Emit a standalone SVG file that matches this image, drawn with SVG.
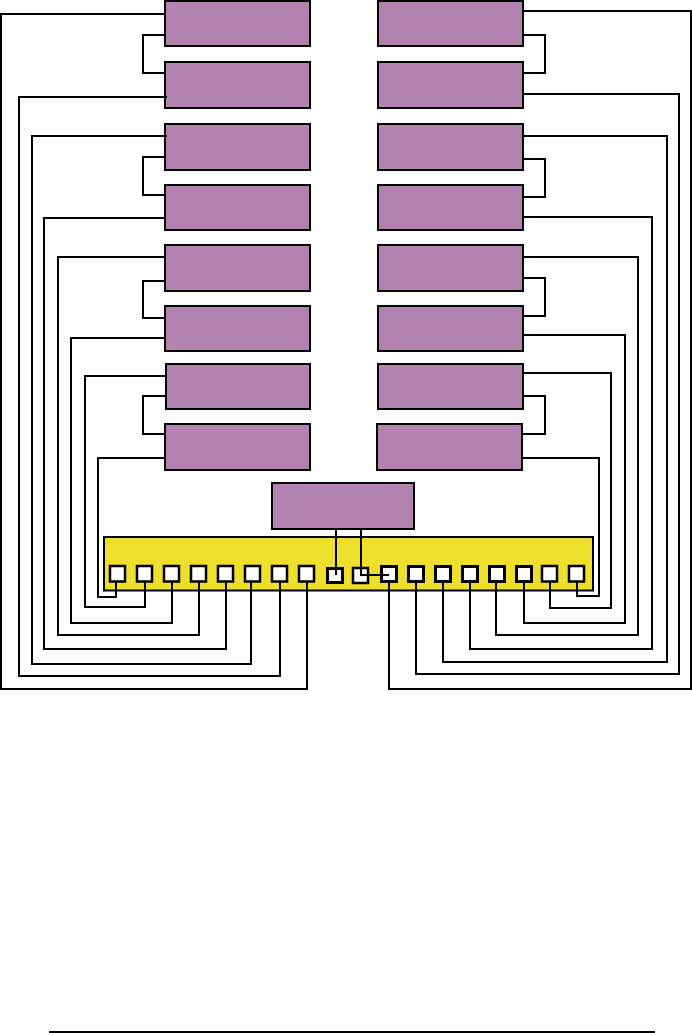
<svg xmlns="http://www.w3.org/2000/svg" width="692" height="1033" viewBox="0 0 692 1033">
<style>
.b{fill:#b383b0;stroke:#000;stroke-width:2}
.y{fill:#efdf2d;stroke:#000;stroke-width:2}
.p{fill:#fff;stroke:#000;stroke-width:2.5}
.q{fill:#fff;stroke:#000;stroke-width:3}
.c{fill:none;stroke:#000;stroke-width:2}
</style>
<rect width="692" height="1033" fill="#fff"/>
<g id="bus"><rect class="y" x="104" y="537" width="489" height="53.5"/></g>
<g id="left-boxes">
<rect id="l1" class="b" x="165" y="1" width="145" height="45"/>
<rect id="l2" class="b" x="165" y="62" width="145" height="46"/>
<rect id="l3" class="b" x="165" y="124" width="145" height="46"/>
<rect id="l4" class="b" x="165" y="185" width="145" height="45"/>
<rect id="l5" class="b" x="165" y="245" width="145" height="46"/>
<rect id="l6" class="b" x="165" y="306" width="145" height="45"/>
<rect id="l7" class="b" x="166" y="364" width="144" height="45"/>
<rect id="l8" class="b" x="165" y="424" width="145" height="46"/>
</g>
<g id="right-boxes">
<rect id="r1" class="b" x="378" y="1" width="145" height="45"/>
<rect id="r2" class="b" x="378" y="62" width="145" height="46"/>
<rect id="r3" class="b" x="378" y="124" width="145" height="46"/>
<rect id="r4" class="b" x="378" y="185" width="145" height="45"/>
<rect id="r5" class="b" x="378" y="245" width="145" height="46"/>
<rect id="r6" class="b" x="378" y="306" width="145" height="45"/>
<rect id="r7" class="b" x="378" y="364" width="145" height="45"/>
<rect id="r8" class="b" x="377" y="424" width="145" height="46"/>
</g>
<g id="center"><rect class="b" x="272" y="483" width="142" height="46"/></g>
<g id="ports">
<rect class="p" x="110" y="566" width="15" height="15.5"/>
<rect class="p" x="137" y="566" width="15" height="15.5"/>
<rect class="p" x="164" y="566" width="15" height="15.5"/>
<rect class="p" x="191" y="566" width="15" height="15.5"/>
<rect class="p" x="218" y="566" width="15" height="15.5"/>
<rect class="p" x="245" y="566" width="15" height="15.5"/>
<rect class="p" x="272" y="566" width="15" height="15.5"/>
<rect class="p" x="299" y="566" width="15" height="15.5"/>
<rect class="q" x="327.500" y="568.500" width="15" height="14"/>
<rect class="p" x="353" y="568" width="15" height="15"/>
<rect class="q" x="381.500" y="566.500" width="15" height="15"/>
<rect class="q" x="408.500" y="566.500" width="15" height="15"/>
<rect class="q" x="435.500" y="566.500" width="15" height="15"/>
<rect class="q" x="462.500" y="566.500" width="15" height="15"/>
<rect class="q" x="489.500" y="566.500" width="15" height="15"/>
<rect class="q" x="516.500" y="566.500" width="15" height="15"/>
<rect class="p" x="542" y="566" width="15" height="15.5"/>
<rect class="p" x="569" y="566" width="15" height="15.5"/>
</g>
<g id="connectors">
<path class="c" d="M165 35H143V73H165"/>
<path class="c" d="M165 157H143V195H165"/>
<path class="c" d="M165 281H143V318H165"/>
<path class="c" d="M166 396H143V434H165"/>
<path class="c" d="M523 35H545V73H523"/>
<path class="c" d="M523 159H545V197H523"/>
<path class="c" d="M523 278H545V316H523"/>
<path class="c" d="M523 396H545V434H522"/>
<path class="c" d="M116 582V597H98V458H165"/>
<path class="c" d="M145 582V607H85V376H166"/>
<path class="c" d="M172 582V623H71V338H165"/>
<path class="c" d="M199 582V635H58V257H165"/>
<path class="c" d="M226 582V649H44V218H165"/>
<path class="c" d="M251 582V664H32V136H167"/>
<path class="c" d="M280 582V676H19V97H167"/>
<path class="c" d="M307 582V689H1V14H165"/>
<path class="c" d="M389 582V689H691V11H523"/>
<path class="c" d="M416 582V674H679V94H523"/>
<path class="c" d="M443 582V662H667V136H523"/>
<path class="c" d="M470 582V649H652V217H523"/>
<path class="c" d="M496 582V635H638V257H523"/>
<path class="c" d="M524 582V623H625V335H523"/>
<path class="c" d="M550 582V608H611V373H523"/>
<path class="c" d="M577 582V596H599V458H522"/>
<path class="c" d="M336 529V575"/>
<path class="c" d="M361 529V575H389"/>
<path class="c" d="M49 1032H655"/>
</g>
</svg>
